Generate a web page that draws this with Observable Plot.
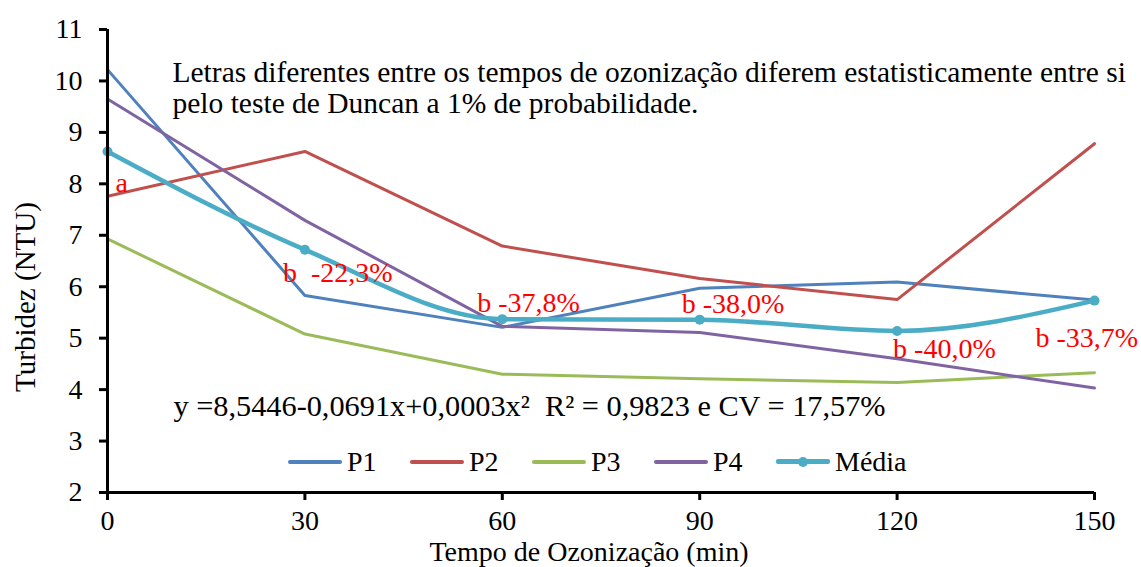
<!DOCTYPE html>
<html><head><meta charset="utf-8">
<script src="https://cdn.jsdelivr.net/npm/d3@7"></script>
<script src="https://cdn.jsdelivr.net/npm/@observablehq/plot@0.6"></script>
<style>
body{margin:0;background:#fff;}
#chart{position:relative;width:1141px;height:567px;font-family:'Liberation Serif';}
#chart svg text{white-space:pre;}
.legend{position:absolute;left:288px;top:447px;height:30px;font-size:28px;font-family:'Liberation Serif';color:#000;}
.item{position:absolute;top:0;height:30px;line-height:30px;white-space:nowrap;}
.item .sw{position:absolute;top:13px;left:0;width:54px;height:4px;border-radius:2px;}
.item .dot{position:absolute;top:10px;left:22px;width:10px;height:10px;border-radius:50%;}
.item .lb{position:absolute;left:59px;top:0;}
</style></head><body><div id="chart"></div>
<script>
const times = [0, 30, 60, 90, 120, 150];
const seriesNames = ["P1", "P2", "P3", "P4", "Média"];
const p1 = [10.22, 5.83, 5.21, 5.97, 6.09, 5.74];
const p2 = [7.76, 8.63, 6.79, 6.16, 5.75, 8.78];
const p3 = [6.93, 5.08, 4.30, 4.21, 4.14, 4.33];
const p4 = [9.65, 7.29, 5.23, 5.11, 4.60, 4.03];
const media = [8.63, 6.72, 5.37, 5.36, 5.14, 5.73];
const pointLabels = ["a", "b  -22,3%", "b -37,8%", "b -38,0%", "b -40,0%", "b -33,7%"];
const xTicks = [0, 30, 60, 90, 120, 150];
const yTicks = [2, 3, 4, 5, 6, 7, 8, 9, 10, 11];
const noteLines = ["Letras diferentes entre os tempos de ozonização diferem estatisticamente entre si", "pelo teste de Duncan a 1% de probabilidade."];
const equation = "y =8,5446-0,0691x+0,0003x²  R² = 0,9823 e CV = 17,57%";
const xLabel = "Tempo de Ozonização (min)";
const yLabel = "Turbidez (NTU)";

const FONT = "'Liberation Serif'";
const colors = ["#4F81BD", "#C0504D", "#9BBB59", "#8064A2", "#4BACC6"];
const allSeries = [p1, p2, p3, p4];
const rows = [];
allSeries.forEach((s, k) => s.forEach((v, i) => rows.push({series: seriesNames[k], t: times[i], v})));
const mediaRows = media.map((v, i) => ({t: times[i], v, label: pointLabels[i]}));

// label offsets (px) relative to each Média point
const labelOffsets = [[8, 32], [-22, 23], [-25, -16], [-18, -16], [-4, 18], [-59, 37]];

const marks = [];
allSeries.forEach((s, k) => {
  marks.push(Plot.line(rows.filter(r => r.series === seriesNames[k]), {x: "t", y: "v", stroke: colors[k], strokeWidth: 3}));
});
marks.push(Plot.line(mediaRows, {x: "t", y: "v", stroke: colors[4], strokeWidth: 4.5, curve: "monotone-x"}));
marks.push(Plot.dot(mediaRows, {x: "t", y: "v", r: 5, fill: colors[4], stroke: "none"}));
mediaRows.forEach((d, i) => {
  marks.push(Plot.text([d], {x: "t", y: "v", text: "label", fill: "red", fontSize: 28, fontFamily: FONT, textAnchor: "start", lineAnchor: "middle", dx: labelOffsets[i][0], dy: labelOffsets[i][1]}));
});
marks.push(Plot.ruleX([0], {stroke: "black", strokeWidth: 3}));
marks.push(Plot.ruleY([2], {stroke: "black", strokeWidth: 3}));
marks.push(Plot.axisY({ticks: yTicks, tickSize: 8, tickPadding: 17, strokeWidth: 3, stroke: "black", fontSize: 28, fontFamily: FONT, label: null, tickFormat: d => String(d)}));
marks.push(Plot.axisX({ticks: xTicks, tickSize: 8, tickPadding: 10, strokeWidth: 3, stroke: "black", fontSize: 28, fontFamily: FONT, label: null, tickFormat: d => String(d)}));
marks.push(Plot.text([noteLines[0]], {frameAnchor: "top-left", dx: 65, dy: 43.5, textAnchor: "start", lineAnchor: "middle", fontSize: 29.5, fontFamily: FONT, fill: "black"}));
marks.push(Plot.text([noteLines[1]], {frameAnchor: "top-left", dx: 65, dy: 74.5, textAnchor: "start", lineAnchor: "middle", fontSize: 29.5, fontFamily: FONT, fill: "black"}));
marks.push(Plot.text([equation], {frameAnchor: "top-left", dx: 66, dy: 377, textAnchor: "start", lineAnchor: "middle", fontSize: 30.3, fontFamily: FONT, fill: "black"}));
marks.push(Plot.text([xLabel], {frameAnchor: "bottom", dx: -12, dy: 60, textAnchor: "middle", lineAnchor: "middle", fontSize: 28, fontFamily: FONT, fill: "black"}));
marks.push(Plot.text([yLabel], {frameAnchor: "left", dx: -82, dy: 36, rotate: -90, textAnchor: "middle", lineAnchor: "middle", fontSize: 29, fontFamily: FONT, fill: "black"}));

const chart = Plot.plot({
  width: 1141, height: 567,
  marginLeft: 107, marginRight: 47, marginTop: 29, marginBottom: 75,
  style: {fontFamily: FONT, background: "#fff", color: "#000"},
  x: {domain: [0, 150], axis: null},
  y: {domain: [2, 11], axis: null},
  marks
});
chart.setAttribute("font-family", FONT);
const root = document.getElementById("chart");
root.appendChild(chart);

const legend = document.createElement("div");
legend.className = "legend";
seriesNames.forEach((name, k) => {
  const it = document.createElement("div");
  it.className = "item";
  it.style.left = (k * 122) + "px";
  const sw = document.createElement("div"); sw.className = "sw"; sw.style.background = colors[k];
  if (k === 4) { sw.style.height = "5px"; sw.style.top = "12px"; }
  it.appendChild(sw);
  if (k === 4) { const dt = document.createElement("div"); dt.className = "dot"; dt.style.background = colors[k]; it.appendChild(dt); }
  const lb = document.createElement("span"); lb.className = "lb"; lb.textContent = name;
  it.appendChild(lb);
  legend.appendChild(it);
});
root.appendChild(legend);
</script>
</body></html>
